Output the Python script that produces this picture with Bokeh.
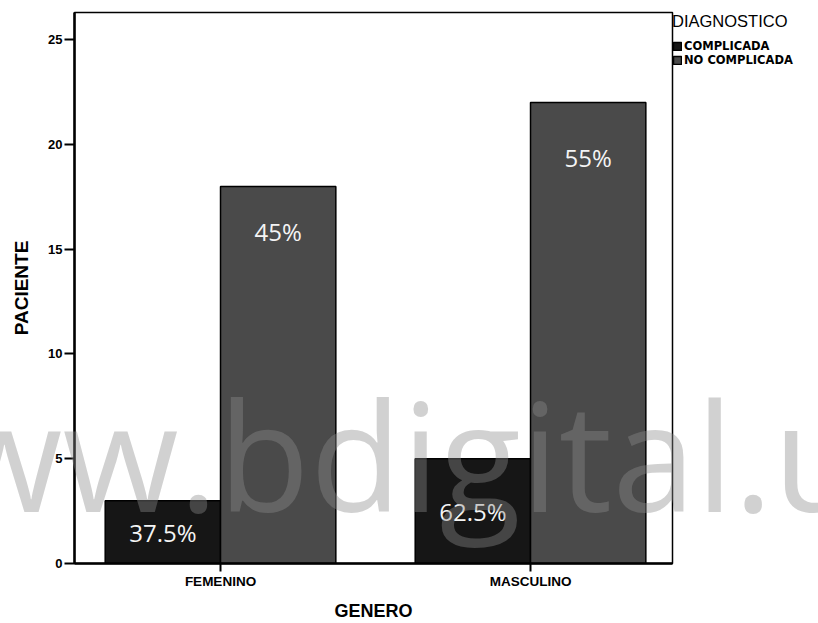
from bokeh.plotting import figure
from bokeh.models import ColumnDataSource, FixedTicker, Legend, LegendItem, Range1d, Div
from bokeh.layouts import column
from bokeh.core.properties import value
from bokeh.embed import file_html
from bokeh.resources import INLINE

# ---- data ----
genero = ["FEMENINO", "MASCULINO"]
diagnostico = ["COMPLICADA", "NO COMPLICADA"]
complicada = [3, 5]
no_complicada = [18, 22]
pct_complicada = ["37.5%", "62.5%"]
pct_no_complicada = ["45%", "55%"]
y_ticks = [0, 5, 10, 15, 20, 25]
watermark = "www.bdigital.u"

# ---- styles ----
BAR_W = 0.372
COL_COMP = "#161616"
COL_NOCOMP = "#4a4a4a"
AXIS_FONT = "Liberation Sans"

xpos = [i + 1 for i in range(len(genero))]
src = ColumnDataSource(dict(
    x_comp=[x - BAR_W / 2 for x in xpos],
    x_nocomp=[x + BAR_W / 2 for x in xpos],
    comp=complicada,
    nocomp=no_complicada,
    comp_lab=pct_complicada,
    nocomp_lab=pct_no_complicada,
    comp_y=[v * 0.5 for v in complicada],
    nocomp_y=[v * 0.88 for v in no_complicada],
))

fig = figure(frame_width=598, frame_height=551, output_backend="svg",
             toolbar_location=None,
             x_range=Range1d(0.529, 2.458), y_range=Range1d(0, 26.3),
             min_border_left=74, min_border_right=146, min_border_top=12,
             min_border_bottom=60)

fig.xgrid.visible = False
fig.ygrid.visible = False
fig.outline_line_color = "black"
fig.outline_line_width = 1.5

r1 = fig.vbar(x="x_comp", top="comp", width=BAR_W,
              source=src, fill_color=COL_COMP, line_color="black", line_width=1.5)
r2 = fig.vbar(x="x_nocomp", top="nocomp", width=BAR_W,
              source=src, fill_color=COL_NOCOMP, line_color="black", line_width=1.5)

fig.text(x="x_comp", y="comp_y", text="comp_lab",
         source=src, text_align="center", text_baseline="middle",
         text_font=value("Open Sans"), text_font_size="24px", text_color="#f4f4f4")
fig.text(x="x_nocomp", y="nocomp_y", text="nocomp_lab",
         source=src, text_align="center", text_baseline="middle",
         text_font=value("Open Sans"), text_font_size="24px", text_color="#f4f4f4")

# axes
xa = fig.xaxis[0]
xa.ticker = FixedTicker(ticks=xpos)
xa.major_label_overrides = {x: g for x, g in zip(xpos, genero)}
xa.axis_label = "GENERO"
xa.axis_label_text_font = AXIS_FONT
xa.axis_label_text_font_size = "18px"
xa.axis_label_text_font_style = "bold"
xa.axis_label_text_color = "black"
xa.axis_label_standoff = 9
xa.major_label_text_font = AXIS_FONT
xa.major_label_text_font_size = "13.5px"
xa.major_label_text_font_style = "bold"
xa.major_label_text_color = "black"
xa.major_label_standoff = 2
xa.major_tick_out = 8
xa.major_tick_in = 0
xa.minor_tick_out = 0
xa.minor_tick_in = 0
xa.axis_line_width = 2.5
xa.major_tick_line_width = 2

ya = fig.yaxis[0]
ya.ticker = FixedTicker(ticks=y_ticks)
ya.axis_label = "PACIENTE"
ya.axis_label_text_font = AXIS_FONT
ya.axis_label_text_font_size = "19px"
ya.axis_label_text_font_style = "bold"
ya.axis_label_text_color = "black"
ya.axis_label_standoff = 13
ya.major_label_text_font = AXIS_FONT
ya.major_label_text_font_size = "13px"
ya.major_label_text_font_style = "bold"
ya.major_label_text_color = "black"
ya.major_label_standoff = 2
ya.major_tick_out = 10
ya.major_tick_in = 0
ya.minor_tick_out = 0
ya.minor_tick_in = 0
ya.axis_line_width = 2.5
ya.major_tick_line_width = 2

# legend to the right of the frame
legend = Legend(items=[LegendItem(label=diagnostico[0], renderers=[r1]),
                       LegendItem(label=diagnostico[1], renderers=[r2])],
                title="DIAGNOSTICO", location="top_left", orientation="vertical")
legend.title_text_font = AXIS_FONT
legend.title_text_font_size = "16.5px"
legend.title_text_font_style = "normal"
legend.title_text_color = "black"
legend.title_standoff = 8
legend.label_text_font = "DejaVu Sans"
legend.label_text_font_size = "11.5px"
legend.label_text_font_style = "bold"
legend.label_text_color = "black"
legend.glyph_width = 10
legend.glyph_height = 10
legend.label_height = 10
legend.label_standoff = 2
legend.spacing = 0
legend.padding = 7
legend.margin = 0
legend.border_line_color = None
legend.background_fill_alpha = 0
fig.add_layout(legend, "right")

# translucent watermark laid over the whole chart
wm = Div(text=watermark, margin=0,
         styles={"position": "absolute", "left": "0px", "top": "379px",
                 "width": "818px", "height": "200px", "overflow": "hidden",
                 "text-indent": "-170px", "white-space": "nowrap",
                 "font-family": "'Open Sans'", "font-size": "150px",
                 "line-height": "150px", "color": "rgba(141,141,141,0.4)",
                 "pointer-events": "none", "z-index": "10"})

p = column(fig, wm)

open("out.html", "w").write(file_html(p, INLINE))
